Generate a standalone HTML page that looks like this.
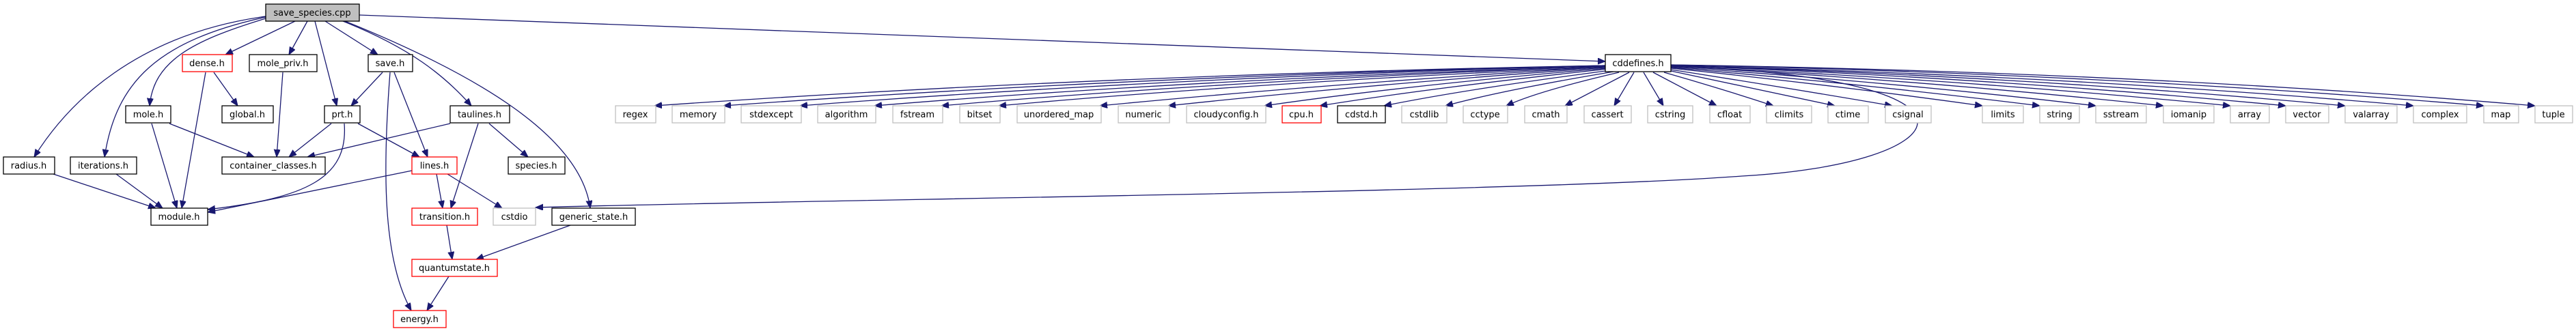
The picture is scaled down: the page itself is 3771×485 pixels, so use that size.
<!DOCTYPE html>
<html><head><meta charset="utf-8"><style>
html,body{margin:0;padding:0;background:#fff;}
svg{display:block}
text{font-family:"DejaVu Sans","Liberation Sans",sans-serif;font-size:13px;fill:#000;text-anchor:middle;}
.e{fill:none;stroke:#191970;stroke-width:1.3;marker-end:url(#a);}
.n{fill:#fff;stroke:#000;stroke-width:1.3;}
.r{fill:#fff;stroke:#ff0000;stroke-width:1.3;}
.g{fill:#fff;stroke:#bfbfbf;stroke-width:1.3;}
</style></head><body>
<svg width="3771" height="485" viewBox="0 0 3771 485" xmlns="http://www.w3.org/2000/svg">
<defs><marker id="a" markerUnits="userSpaceOnUse" markerWidth="12" markerHeight="10" refX="11" refY="4.5" orient="auto"><path d="M0,0 L11,4.5 L0,9 z" fill="#191970" stroke="#191970"/></marker></defs>
<g>
<path class="e" d="M526,22 L2350,90"/>
<path class="e" d="M432,31 L330,80"/>
<path class="e" d="M450,31 L423,80"/>
<path class="e" d="M461,31 L493,155"/>
<path class="e" d="M476,31 L553,80"/>
<path class="e" d="M389,27 C280,60 225,90 219,155"/>
<path class="e" d="M389,25 C230,60 170,120 153,230"/>
<path class="e" d="M389,24 C200,50 100,150 50,230"/>
<path class="e" d="M502,31 C600,70 650,110 690,155"/>
<path class="e" d="M505,31 C700,110 850,200 864,305"/>
<path class="e" d="M313,106 L348,155"/>
<path class="e" d="M301,106 L266,305"/>
<path class="e" d="M414,106 L405,230"/>
<path class="e" d="M560,106 L514,155"/>
<path class="e" d="M577,106 L626,230"/>
<path class="e" d="M571,106 C560,250 560,380 602,455"/>
<path class="e" d="M222,181 L259,305"/>
<path class="e" d="M248,181 L372,230"/>
<path class="e" d="M485,181 L423,230"/>
<path class="e" d="M524,181 L614,230"/>
<path class="e" d="M504,181 C510,260 450,290 304,307"/>
<path class="e" d="M659,181 L450,230"/>
<path class="e" d="M700,181 L660,305"/>
<path class="e" d="M716,181 L773,230"/>
<path class="e" d="M78,255 L228,305"/>
<path class="e" d="M170,255 L238,305"/>
<path class="e" d="M603,250 L304,311"/>
<path class="e" d="M639,255 L648,305"/>
<path class="e" d="M655,255 L735,305"/>
<path class="e" d="M654,330 L662,380"/>
<path class="e" d="M835,330 L697,380"/>
<path class="e" d="M657,405 L625,455"/>
<path class="e" d="M2446,97 C2950,115 2870,240 2550,258 C2230,282 1200,292 784,304"/>
<!-- cddefines fan left -->
<path class="e" d="M2350,96 Q1600,110 958,155"/>
<path class="e" d="M2350,96 Q1650,112 1059,155"/>
<path class="e" d="M2350,96 Q1700,114 1171,155"/>
<path class="e" d="M2350,97 Q1750,116 1280,155"/>
<path class="e" d="M2350,97 Q1800,118 1378,155"/>
<path class="e" d="M2350,98 Q1850,120 1462,155"/>
<path class="e" d="M2350,98 Q1950,122 1610,155"/>
<path class="e" d="M2350,99 Q2000,124 1710,155"/>
<path class="e" d="M2352,100 Q2050,126 1851,155"/>
<path class="e" d="M2354,101 Q2100,128 1932,155"/>
<path class="e" d="M2358,103 Q2150,130 2026,155"/>
<path class="e" d="M2362,105 Q2200,132 2116,155"/>
<path class="e" d="M2370,106 Q2250,134 2205,155"/>
<path class="e" d="M2385,106 L2291,155"/>
<path class="e" d="M2392,106 L2363,155"/>
<path class="e" d="M2406,106 L2435,155"/>
<path class="e" d="M2420,106 L2513,155"/>
<path class="e" d="M2436,106 Q2520,130 2596,155"/>
<path class="e" d="M2446,104 Q2560,128 2686,155"/>
<path class="e" d="M2446,102 Q2600,126 2770,155"/>
<path class="e" d="M2446,100 Q2680,124 2902,155"/>
<path class="e" d="M2446,99 Q2720,122 2986,155"/>
<path class="e" d="M2446,98 Q2770,120 3068,155"/>
<path class="e" d="M2446,97 Q2820,118 3167,155"/>
<path class="e" d="M2446,97 Q2870,116 3265,155"/>
<path class="e" d="M2446,96 Q2920,114 3346,155"/>
<path class="e" d="M2446,96 Q2970,112 3433,155"/>
<path class="e" d="M2446,96 Q3020,110 3533,155"/>
<path class="e" d="M2446,95 Q3080,108 3636,155"/>
<path class="e" d="M2446,95 Q3140,106 3711,155"/>
</g>
<g>
<rect x="389" y="6" width="137" height="25" fill="#bfbfbf" stroke="#000" stroke-width="1.3"/><text x="457" y="23">save_species.cpp</text>
<rect class="r" x="267" y="80" width="73" height="25"/><text x="303" y="97">dense.h</text>
<rect class="n" x="365" y="80" width="99" height="25"/><text x="414" y="97">mole_priv.h</text>
<rect class="n" x="539" y="80" width="65" height="25"/><text x="571" y="97">save.h</text>
<rect class="n" x="2350" y="80" width="96" height="25"/><text x="2398" y="97">cddefines.h</text>
<rect class="n" x="184" y="155" width="66" height="25"/><text x="217" y="172">mole.h</text>
<rect class="n" x="325" y="155" width="75" height="25"/><text x="362" y="172">global.h</text>
<rect class="n" x="475" y="155" width="52" height="25"/><text x="501" y="172">prt.h</text>
<rect class="n" x="659" y="155" width="87" height="25"/><text x="702" y="172">taulines.h</text>
<rect class="n" x="5" y="230" width="75" height="25"/><text x="42" y="247">radius.h</text>
<rect class="n" x="103" y="230" width="97" height="25"/><text x="151" y="247">iterations.h</text>
<rect class="n" x="325" y="230" width="151" height="25"/><text x="400" y="247">container_classes.h</text>
<rect class="r" x="603" y="230" width="66" height="25"/><text x="636" y="247">lines.h</text>
<rect class="n" x="744" y="230" width="83" height="25"/><text x="785" y="247">species.h</text>
<rect class="n" x="221" y="305" width="83" height="25"/><text x="262" y="322">module.h</text>
<rect class="r" x="603" y="305" width="96" height="25"/><text x="651" y="322">transition.h</text>
<rect class="g" x="722" y="305" width="62" height="25"/><text x="753" y="322">cstdio</text>
<rect class="n" x="808" y="305" width="122" height="25"/><text x="869" y="322">generic_state.h</text>
<rect class="r" x="603" y="380" width="125" height="25"/><text x="665" y="397">quantumstate.h</text>
<rect class="r" x="576" y="455" width="77" height="25"/><text x="614" y="472">energy.h</text>
<rect class="g" x="901" y="155" width="59" height="25"/><text x="930" y="172">regex</text>
<rect class="g" x="984" y="155" width="77" height="25"/><text x="1022" y="172">memory</text>
<rect class="g" x="1085" y="155" width="88" height="25"/><text x="1129" y="172">stdexcept</text>
<rect class="g" x="1197" y="155" width="85" height="25"/><text x="1239" y="172">algorithm</text>
<rect class="g" x="1307" y="155" width="73" height="25"/><text x="1343" y="172">fstream</text>
<rect class="g" x="1405" y="155" width="59" height="25"/><text x="1434" y="172">bitset</text>
<rect class="g" x="1489" y="155" width="123" height="25"/><text x="1550" y="172">unordered_map</text>
<rect class="g" x="1637" y="155" width="75" height="25"/><text x="1674" y="172">numeric</text>
<rect class="g" x="1737" y="155" width="116" height="25"/><text x="1795" y="172">cloudyconfig.h</text>
<rect class="r" x="1877" y="155" width="57" height="25"/><text x="1905" y="172">cpu.h</text>
<rect class="n" x="1958" y="155" width="70" height="25"/><text x="1993" y="172">cdstd.h</text>
<rect class="g" x="2052" y="155" width="66" height="25"/><text x="2085" y="172">cstdlib</text>
<rect class="g" x="2142" y="155" width="65" height="25"/><text x="2174" y="172">cctype</text>
<rect class="g" x="2232" y="155" width="62" height="25"/><text x="2263" y="172">cmath</text>
<rect class="g" x="2319" y="155" width="69" height="25"/><text x="2353" y="172">cassert</text>
<rect class="g" x="2412" y="155" width="66" height="25"/><text x="2445" y="172">cstring</text>
<rect class="g" x="2503" y="155" width="59" height="25"/><text x="2532" y="172">cfloat</text>
<rect class="g" x="2586" y="155" width="66" height="25"/><text x="2619" y="172">climits</text>
<rect class="g" x="2676" y="155" width="59" height="25"/><text x="2705" y="172">ctime</text>
<rect class="g" x="2760" y="155" width="67" height="25"/><text x="2793" y="172">csignal</text>
<rect class="g" x="2902" y="155" width="60" height="25"/><text x="2932" y="172">limits</text>
<rect class="g" x="2986" y="155" width="58" height="25"/><text x="3015" y="172">string</text>
<rect class="g" x="3068" y="155" width="74" height="25"/><text x="3105" y="172">sstream</text>
<rect class="g" x="3167" y="155" width="74" height="25"/><text x="3204" y="172">iomanip</text>
<rect class="g" x="3265" y="155" width="57" height="25"/><text x="3293" y="172">array</text>
<rect class="g" x="3346" y="155" width="63" height="25"/><text x="3377" y="172">vector</text>
<rect class="g" x="3433" y="155" width="76" height="25"/><text x="3471" y="172">valarray</text>
<rect class="g" x="3533" y="155" width="78" height="25"/><text x="3572" y="172">complex</text>
<rect class="g" x="3636" y="155" width="51" height="25"/><text x="3661" y="172">map</text>
<rect class="g" x="3711" y="155" width="55" height="25"/><text x="3738" y="172">tuple</text>
</g>
</svg>
</body></html>
